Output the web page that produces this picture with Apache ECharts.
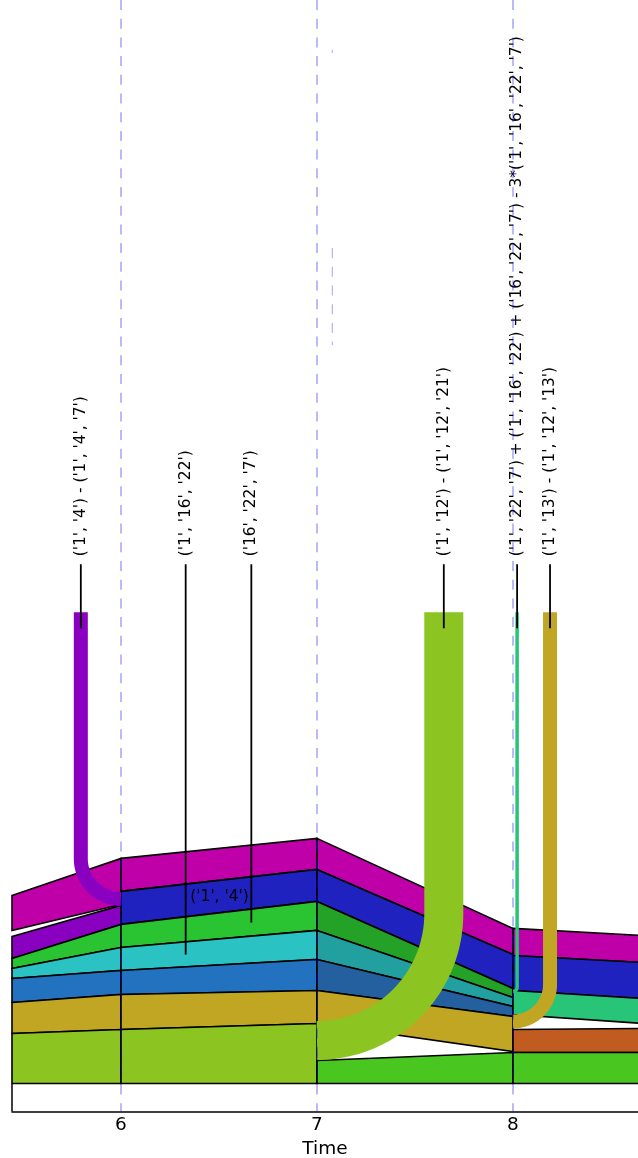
<!DOCTYPE html>
<html>
<head>
<meta charset="utf-8">
<script src="https://cdn.jsdelivr.net/npm/echarts@6/dist/echarts.min.js"></script>
<style>
  html, body { margin: 0; padding: 0; background: #fff; }
  #chart { width: 638px; height: 1158px; }
</style>
</head>
<body>
<div id="chart"></div>
<script>
// ---- time axis ----
const X_MIN = 5.4439;
const X_MAX = 8.6378;
const Y_MIN = -28;
const Y_MAX = 1083;
const tickValues = [6, 7, 8];
const axisName = 'Time';

// ---- stacked bands: one trapezoid per band and time step ----
// start/end time, upper level at start/end, lower level at start/end
const bandX0   = [5.4439, 5.4439, 5.4439, 5.4439, 5.4439, 5.4439, 5.4439,
                  6, 6, 6, 6, 6, 6, 6,
                  7, 7, 7, 7, 7, 7, 7,
                  8, 8, 8, 8, 8];
const bandX1   = [6, 6, 6, 6, 6, 6, 6,
                  7, 7, 7, 7, 7, 7, 7,
                  8, 8, 8, 8, 8, 8, 8,
                  8.66, 8.66, 8.66, 8.66, 8.66];
const bandTop0 = [188, 147, 125, 115, 105, 81, 50,
                  225, 192, 159, 136, 113, 89, 54,
                  245, 214, 182, 153, 124, 93, 23,
                  155, 128, 93, 54, 31];
const bandTop1 = [225, 178, 159, 136, 113, 89, 54,
                  245, 214, 182, 153, 124, 93, 60,
                  155, 129, 95, 86, 77, 67, 31,
                  148, 121, 85, 55, 31];
const bandBot0 = [153, 125, 115, 105, 81, 50, 0,
                  192, 159, 136, 113, 89, 54, 0,
                  214, 182, 153, 124, 93, 60, 0,
                  128, 93, 69, 31, 0];
const bandBot1 = [179, 159, 136, 113, 89, 54, 0,
                  214, 182, 153, 124, 93, 60, 0,
                  129, 95, 86, 77, 67, 32, 0,
                  121, 85, 60, 31, 0];
const bandColor = ['#bf00a8', '#8a00c0', '#2ac432', '#2ac2c2', '#2272c0', '#c0a622', '#8cc421',
                   '#bf00a8', '#1f22bf', '#2ac432', '#2ac2c2', '#2272c0', '#c0a622', '#8cc421',
                   '#bf00a8', '#1f22bf', '#24a228', '#229f9f', '#245fa0', '#c0a622', '#4ac621',
                   '#bf00a8', '#1f22bf', '#28c477', '#c05c20', '#4ac621'];

// ---- flow tubes: vertical run, then a quarter turn into a band ----
const tubeX     = [5.795, 7.647, 8.189, 8.021];
const tubeTop   = [471, 471, 471, 471];
const tubeJoinX = [6, 7, 8, 8];
const tubeJoinY = [184.5, 43, 62, 92];
const tubeWidth = [14, 39, 14, 3.5];
const tubeColor = ['#8a00c0', '#8cc421', '#c0a622', '#28c477'];

// ---- rotated labels with leader lines ----
const labelX = [5.795, 6.33, 6.665, 7.647, 8.021, 8.189];
const labelText = [
  "('1', '4') - ('1', '4', '7')",
  "('1', '16', '22')",
  "('16', '22', '7')",
  "('1', '12') - ('1', '12', '21')",
  "('1', '22', '7') + ('1', '16', '22') + ('16', '22', '7') - 3*('1', '16', '22', '7')",
  "('1', '13') - ('1', '12', '13')"
];
const labelBase   = 527;
const leaderTop   = 519;
const leaderBottom = [455, 129, 161, 455, 455, 455];

// label written inside a band
const bandLabelText = ["('1', '4')"];
const bandLabelX    = [6.5026];
const bandLabelY    = [186.3];

// dashed time guides
const guideX    = [6, 7, 8, 7.078, 7.078];
const guideFrom = [Y_MIN, Y_MIN, Y_MIN, 738, 1030];
const guideTo   = [Y_MAX, Y_MAX, Y_MAX, 835, 1033];
const guideWidth = [1.5, 1.5, 1.5, 1, 1];

const FONT = '"DejaVu Sans", "Liberation Sans", sans-serif';
const LABEL_PX = 15.4;
const AXIS_PX = 18.5;

const chart = echarts.init(document.getElementById('chart'), null, { renderer: 'canvas' });

const bandSeries = {
  type: 'custom',
  z: 2,
  silent: true,
  data: bandX0.map((x, i) => [x, bandTop0[i]]),
  renderItem: function (params, api) {
    const i = params.dataIndex;
    const pts = [
      api.coord([bandX0[i], bandTop0[i]]),
      api.coord([bandX1[i], bandTop1[i]]),
      api.coord([bandX1[i], bandBot1[i]]),
      api.coord([bandX0[i], bandBot0[i]])
    ];
    return {
      type: 'polygon',
      shape: { points: pts },
      style: { fill: bandColor[i], stroke: '#000', lineWidth: 1.6, lineJoin: 'miter' }
    };
  }
};

const tubeSeries = {
  type: 'custom',
  z: 3,
  silent: true,
  data: tubeX.map((x, i) => [x, tubeTop[i]]),
  renderItem: function (params, api) {
    const i = params.dataIndex;
    const top = api.coord([tubeX[i], tubeTop[i]]);
    const join = api.coord([tubeJoinX[i], tubeJoinY[i]]);
    const dx = top[0] - join[0];
    const s = dx >= 0 ? 1 : -1;
    const r = Math.abs(dx);
    const cx = join[0], cy = join[1] - r;
    const pts = [[top[0], top[1]], [top[0], cy]];
    const n = 40;
    for (let k = 1; k <= n; k++) {
      const t = (k / n) * Math.PI / 2;
      pts.push([cx + s * r * Math.cos(t), cy + r * Math.sin(t)]);
    }
    const w = api.size([0, tubeWidth[i]])[1];
    return {
      type: 'polyline',
      shape: { points: pts },
      style: { stroke: tubeColor[i], lineWidth: w, fill: null, lineCap: 'butt', lineJoin: 'round' }
    };
  }
};

const leaderSeries = {
  type: 'custom',
  z: 4,
  silent: true,
  data: labelX.map((x, i) => [x, leaderTop]),
  renderItem: function (params, api) {
    const i = params.dataIndex;
    const a = api.coord([labelX[i], leaderTop]);
    const b = api.coord([labelX[i], leaderBottom[i]]);
    const p = api.coord([labelX[i], labelBase]);
    return {
      type: 'group',
      children: [
        {
          type: 'line',
          shape: { x1: a[0], y1: a[1], x2: b[0], y2: b[1] },
          style: { stroke: '#000', lineWidth: 1.8 }
        },
        {
          type: 'text',
          x: p[0],
          y: p[1],
          rotation: Math.PI / 2,
          style: {
            text: labelText[i],
            fill: '#000',
            font: LABEL_PX + 'px ' + FONT,
            align: 'left',
            verticalAlign: 'middle'
          }
        }
      ]
    };
  }
};

const bandLabelSeries = {
  type: 'custom',
  z: 5,
  silent: true,
  data: bandLabelX.map((x, i) => [x, bandLabelY[i]]),
  renderItem: function (params, api) {
    const i = params.dataIndex;
    const p = api.coord([bandLabelX[i], bandLabelY[i]]);
    return {
      type: 'text',
      x: p[0],
      y: p[1],
      style: {
        text: bandLabelText[i],
        fill: '#000',
        font: LABEL_PX + 'px ' + FONT,
        align: 'center',
        verticalAlign: 'middle'
      }
    };
  }
};

const guideSeries = {
  type: 'custom',
  z: 6,
  silent: true,
  data: guideX.map((x, i) => [x, guideFrom[i]]),
  renderItem: function (params, api) {
    const i = params.dataIndex;
    const a = api.coord([guideX[i], guideTo[i]]);
    const b = api.coord([guideX[i], guideFrom[i]]);
    return {
      type: 'line',
      shape: { x1: a[0], y1: a[1], x2: b[0], y2: b[1] },
      style: { stroke: 'rgba(0,0,240,0.36)', lineWidth: guideWidth[i], lineDash: [10, 8.7] }
    };
  }
};

// short left frame edge below the band floor
const frameSeries = {
  type: 'custom',
  z: 7,
  silent: true,
  data: [[X_MIN, Y_MIN]],
  renderItem: function (params, api) {
    const a = api.coord([X_MIN, Y_MIN]);
    const b = api.coord([X_MIN, 0]);
    return {
      type: 'line',
      shape: { x1: a[0], y1: a[1], x2: b[0], y2: b[1] },
      style: { stroke: '#000', lineWidth: 1.5 }
    };
  }
};

chart.setOption({
  animation: false,
  backgroundColor: '#fff',
  grid: { left: 12, right: 0, top: 0, bottom: 46.5, containLabel: false, outerBoundsMode: 'none' },
  xAxis: {
    type: 'value',
    min: X_MIN,
    max: X_MAX,
    name: axisName,
    nameLocation: 'middle',
    nameGap: 27,
    nameTextStyle: { color: '#000', fontSize: AXIS_PX, fontFamily: FONT },
    axisLine: { show: true, onZero: false, lineStyle: { color: '#000', width: 1.5 } },
    axisTick: { show: false },
    splitLine: { show: false },
    axisLabel: {
      customValues: tickValues,
      margin: 4,
      color: '#000',
      fontSize: AXIS_PX,
      fontFamily: FONT,
      formatter: function (v) { return String(Math.round(v)); }
    }
  },
  yAxis: {
    type: 'value',
    min: Y_MIN,
    max: Y_MAX,
    show: false,
    splitLine: { show: false }
  },
  series: [bandSeries, tubeSeries, leaderSeries, bandLabelSeries, guideSeries, frameSeries]
});
</script>
</body>
</html>
